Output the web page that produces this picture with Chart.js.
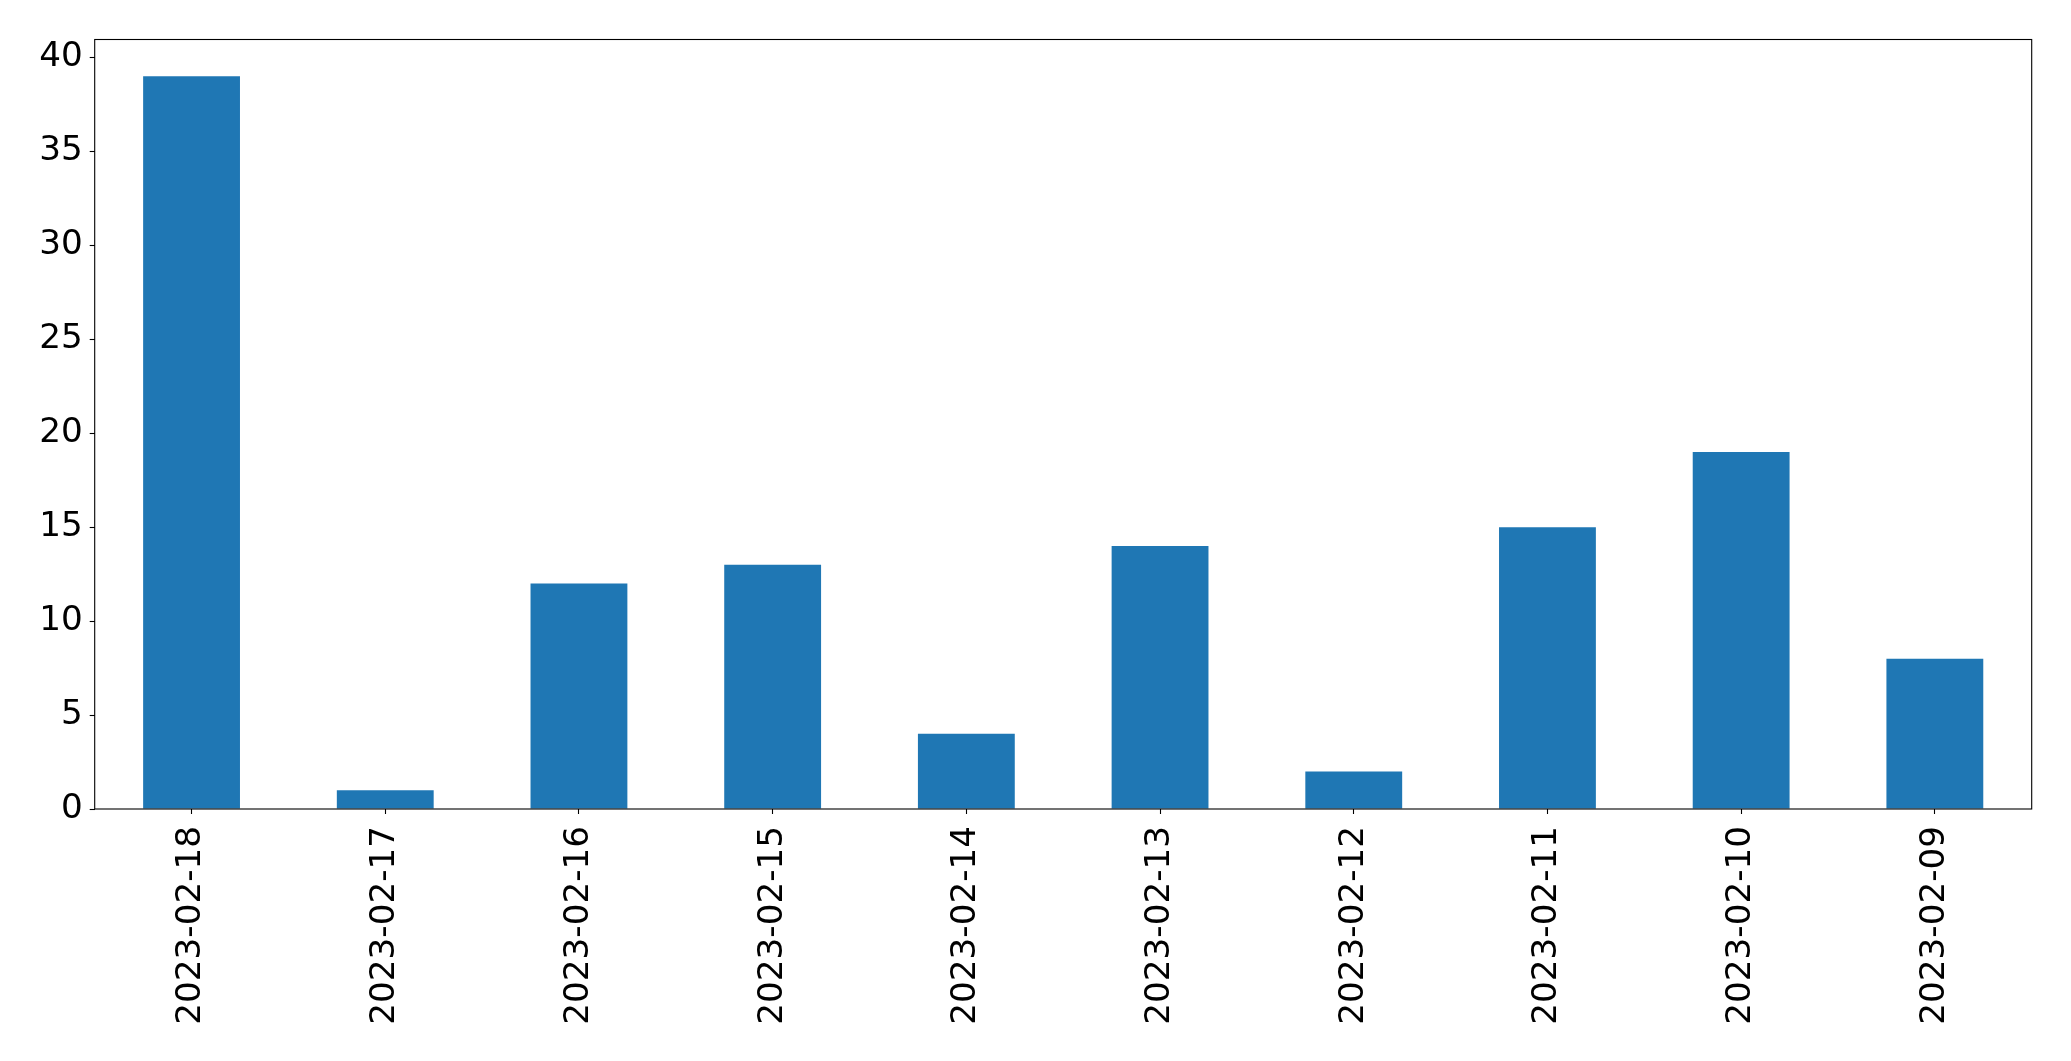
<!DOCTYPE html>
<html>
<head>
<meta charset="utf-8">
<script src="https://cdn.jsdelivr.net/npm/chart.js@4"></script>
<style>
html,body{margin:0;padding:0;background:#fff;}
#wrap{width:2071px;height:1061px;position:relative;}
</style>
</head>
<body>
<div id="wrap"><canvas id="c" width="2071" height="1061"></canvas></div>
<script>
const categories = ["2023-02-18","2023-02-17","2023-02-16","2023-02-15","2023-02-14","2023-02-13","2023-02-12","2023-02-11","2023-02-10","2023-02-09"];
const counts = [39, 1, 12, 13, 4, 14, 2, 15, 19, 8];
const yTicks = [0, 5, 10, 15, 20, 25, 30, 35, 40];
const yMax = 40.95;

const frame = {
  id: 'frame',
  afterDraw(chart) {
    const {ctx, chartArea: a} = chart;
    ctx.save();
    ctx.strokeStyle = '#000';
    ctx.lineWidth = 1.1;
    ctx.strokeRect(a.left, a.top, a.right - a.left, a.bottom - a.top);
    ctx.restore();
  }
};

const font = {family: 'DejaVu Sans', size: 34.2};

new Chart(document.getElementById('c'), {
  type: 'bar',
  data: {
    labels: categories,
    datasets: [{
      data: counts,
      backgroundColor: '#1f77b4',
      borderWidth: 0,
      barPercentage: 0.5,
      categoryPercentage: 1.0
    }]
  },
  options: {
    responsive: false,
    animation: false,
    devicePixelRatio: 1,
    layout: {padding: {top: 39.5, right: 39.3, left: 0, bottom: 0}},
    plugins: {legend: {display: false}, tooltip: {enabled: false}},
    scales: {
      x: {
        offset: true,
        grid: {display: true, drawOnChartArea: false, drawTicks: true, tickLength: 5, tickColor: '#000', tickWidth: 1.1, offset: false},
        border: {display: false},
        ticks: {color: '#000', font: font, maxRotation: 90, minRotation: 90, padding: 12, autoSkip: false},
        afterFit(s) { s.height = 252; }
      },
      y: {
        min: 0,
        max: yMax,
        grid: {display: true, drawOnChartArea: false, drawTicks: true, tickLength: 5, tickColor: '#000', tickWidth: 1.1},
        border: {display: false},
        ticks: {color: '#000', font: font, padding: 7, stepSize: 5},
        afterBuildTicks(s) { s.ticks = yTicks.map(v => ({value: v})); },
        afterFit(s) { s.width = 94.7; }
      }
    }
  },
  plugins: [frame]
});
</script>
</body>
</html>
